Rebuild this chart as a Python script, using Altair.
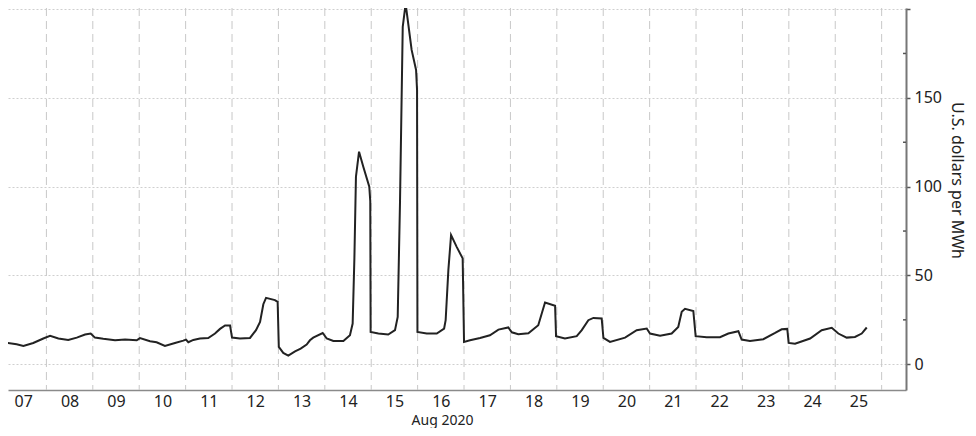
import altair as alt
import pandas as pd

# Hours since 2020-08-07 00:00 and the hourly power price
hours = [
    0, 3.5, 8.6, 12.1, 17.2, 22.4, 25.9, 30.2, 35.3, 39.7, 44.0, 46.9, 49.1, 53.4,
    59.5, 64.7, 70.7, 72.4, 77.6, 81.0, 85.3, 90.5, 94.8, 96.2, 97.4, 100.0, 103.4,
    107.7, 111.2, 113.8, 116.4, 119.0, 120.0, 124.1, 129.3, 132.4, 134.5, 136.2,
    137.6, 142.2, 143.6, 144.2, 146.5, 149.1, 152.6, 155.5, 158.6, 160.3, 162.0,
    166.9, 169.0, 172.4, 177.6, 181.0, 182.4, 183.3, 184.1, 185.7, 187.9, 191.0,
    191.5, 191.7, 195.7, 200.8, 204.3, 205.7, 206.9, 208.3, 209.8, 212.9, 215.2,
    215.7, 215.9, 220.7, 225.9, 229.7, 230.5, 231.9, 233.3, 236.2, 239.3, 240.0,
    243.1, 248.3, 253.4, 257.8, 262.9, 264.7, 268.1, 273.3, 278.4, 280.2, 281.9,
    287.1, 287.6, 292.2, 298.3, 300.9, 304.3, 306.9, 311.2, 312.1, 315.5, 323.3,
    329.3, 334.5, 336.2, 341.4, 347.4, 350.8, 352.6, 354.3, 358.6, 359.8, 365.5,
    372.4, 376.7, 381.9, 383.6, 387.9, 394.8, 400.9, 404.3, 407.2, 407.9, 411.2,
    419.0, 425.0, 430.2, 433.6, 437.9, 442.2, 445.7, 448.3,
]
prices = [
    14.5, 12.0, 11.3, 10.3, 12.0, 14.5, 16.0, 14.5, 13.7, 15.0, 16.7, 17.3, 15.0, 14.3,
    13.5, 13.9, 13.5, 14.7, 13.0, 12.4, 10.3, 12.0, 13.3, 13.9, 12.4, 13.7, 14.5,
    14.8, 17.3, 19.9, 21.8, 21.8, 15.0, 14.5, 14.8, 19.2, 23.8, 33.8,
    37.4, 36.1, 35.1, 9.8, 6.4, 4.9, 7.3, 8.8, 11.1, 13.5, 15.0,
    17.6, 14.5, 13.1, 13.1, 16.3, 22.9, 60.0, 105.6, 119.7, 111.2, 100.0,
    92.0, 18.2, 17.3, 16.7, 19.2, 26.7, 92.0, 190.0, 203.0, 177.0, 165.7,
    154.5, 18.2, 17.3, 17.3, 20.1, 24.8, 53.0, 72.7, 66.1, 59.6, 12.6,
    13.5, 14.8, 16.3, 19.5, 20.7, 18.0, 16.9, 17.5, 22.0, 28.6, 34.8,
    32.9, 15.8, 14.5, 15.8, 19.2, 24.8, 26.1, 25.8, 14.8, 12.6, 15.0,
    19.2, 20.1, 17.3, 16.0, 17.3, 21.0, 29.5, 31.2, 30.0, 15.8, 15.2,
    15.2, 17.3, 18.6, 13.9, 13.1, 14.1, 17.6, 19.7, 19.9, 12.0, 11.6,
    14.5, 19.2, 20.5, 17.3, 15.0, 15.4, 17.3, 20.7,
]
label_days = list(range(7, 26))        # tick labels at noon of each day
grid_days = list(range(7, 27))         # dashed lines at midnight
y_ticks = [0, 50, 100, 150, 200]
y_minor = [25, 75, 125, 175]

start = pd.Timestamp("2020-08-07 00:00")
df = pd.DataFrame({
    "time": [start + pd.Timedelta(hours=h) for h in hours],
    "price": prices,
})
grid_df = pd.DataFrame({"time": [pd.Timestamp(2020, 8, d) for d in grid_days]})
minor_df = pd.DataFrame({"price": y_minor})

W, H = 898, 382
FONT = "Noto Sans"

x_scale = alt.Scale(domain=[
    alt.DateTime(year=2020, month=8, date=7, hours=4, minutes=8),
    alt.DateTime(year=2020, month=8, date=26, hours=12, minutes=36),
])
y_scale = alt.Scale(domain=[-14.5, 200.6], nice=False, zero=False)

x_axis = alt.Axis(
    values=[alt.DateTime(year=2020, month=8, date=d, hours=12) for d in label_days],
    format="%d", formatType="time", labelFontSize=16, labelColor="#222",
    labelFont=FONT, labelFlush=False, ticks=False, grid=False,
    domainColor="#8a8a8a", domainWidth=1.5, labelPadding=3,
    title="Aug 2020", titleFont=FONT, titleFontSize=14, titleFontWeight="normal",
    titleColor="#222", titleX=434, titleY=30, titleAlign="center",
    titleBaseline="middle",
)
y_axis = alt.Axis(
    orient="right", values=y_ticks,
    labelExpr="datum.value == 200 ? '' : datum.label",
    tickSize=4, tickColor="#555", tickWidth=1.5,
    domainColor="#777", domainWidth=2,
    labelFontSize=16, labelFont=FONT, labelColor="#222", labelPadding=4,
    labelAlign="left", labelBaseline="middle", labelFlush=False,
    grid=True, gridColor="#cfcfcf", gridDash=[2, 2], gridWidth=1,
    title="U.S. dollars per MWh", titleFont=FONT, titleFontSize=16,
    titleFontWeight="normal", titleColor="#222", titleAngle=90,
    titleX=50, titleY=172, titleAlign="center", titleBaseline="middle",
)

vgrid = alt.Chart(grid_df).mark_rule(
    color="#c8c8c8", strokeWidth=1, strokeDash=[8, 5], clip=True
).encode(x=alt.X("time:T", scale=x_scale, axis=x_axis))

minor = alt.Chart(minor_df).mark_rule(color="#555", strokeWidth=1.5).encode(
    y=alt.Y("price:Q", scale=y_scale, axis=y_axis),
    x=alt.value(W - 3), x2=alt.value(W),
)

line = alt.Chart(df).mark_line(color="#222", strokeWidth=2, clip=True).encode(
    x=alt.X("time:T", scale=x_scale, axis=x_axis),
    y=alt.Y("price:Q", scale=y_scale, axis=y_axis),
)

chart = alt.layer(vgrid, minor, line).properties(
    width=W, height=H,
    autosize=alt.AutoSizeParams(type="none"),
    padding={"left": 0, "top": 0, "right": 62, "bottom": 38},
    background="white",
).configure_view(stroke=None)

chart.save("out.html", embed_options={"renderer": "svg", "actions": False})
